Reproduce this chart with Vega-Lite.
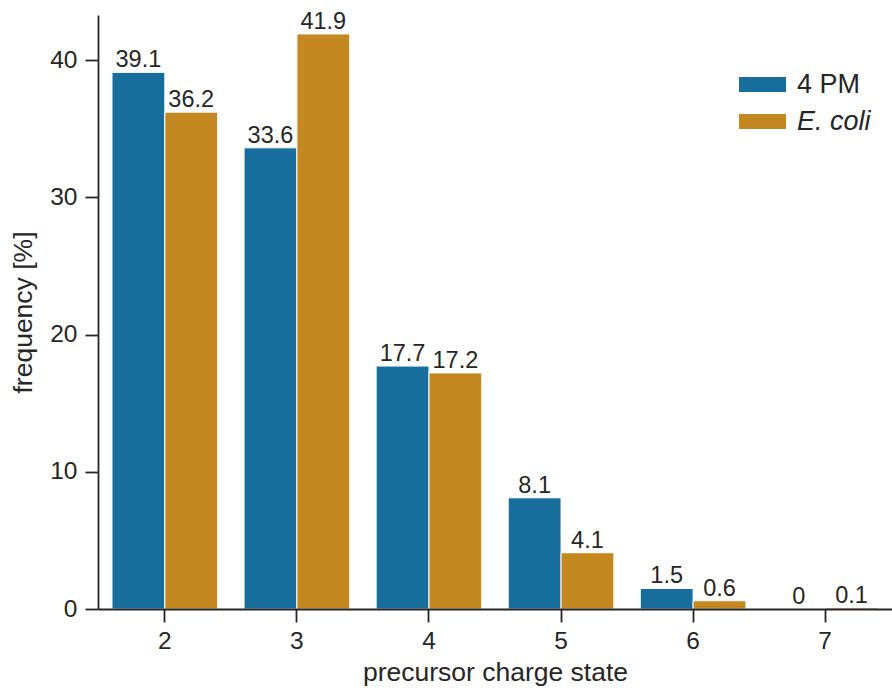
{
  "$schema": "https://vega.github.io/schema/vega-lite/v6.json",
  "width": 794,
  "height": 594,
  "autosize": {"type": "none"},
  "padding": {"left": 98, "top": 15, "right": 0, "bottom": 84},
  "background": "white",
  "config": {
    "view": {"stroke": null},
    "font": "Liberation Sans",
    "axis": {
      "labelFont": "Liberation Sans",
      "titleFont": "Liberation Sans",
      "labelColor": "#262626",
      "titleColor": "#262626",
      "domainColor": "#262626",
      "tickColor": "#262626",
      "domainWidth": 1.8,
      "tickWidth": 1.8,
      "tickSize": 13,
      "grid": false,
      "labelFontSize": 24.5,
      "titleFontSize": 26.5,
      "titleFontWeight": "normal"
    }
  },
  "data": {
    "values": [
      {"charge": "2", "series": "4 PM", "freq": 39.1, "label": "39.1"},
      {"charge": "2", "series": "E. coli", "freq": 36.2, "label": "36.2"},
      {"charge": "3", "series": "4 PM", "freq": 33.6, "label": "33.6"},
      {"charge": "3", "series": "E. coli", "freq": 41.9, "label": "41.9"},
      {"charge": "4", "series": "4 PM", "freq": 17.7, "label": "17.7"},
      {"charge": "4", "series": "E. coli", "freq": 17.2, "label": "17.2"},
      {"charge": "5", "series": "4 PM", "freq": 8.1, "label": "8.1"},
      {"charge": "5", "series": "E. coli", "freq": 4.1, "label": "4.1"},
      {"charge": "6", "series": "4 PM", "freq": 1.5, "label": "1.5"},
      {"charge": "6", "series": "E. coli", "freq": 0.6, "label": "0.6"},
      {"charge": "7", "series": "4 PM", "freq": 0.0, "label": "0"},
      {"charge": "7", "series": "E. coli", "freq": 0.1, "label": "0.1"}
    ]
  },
  "encoding": {
    "x": {
      "field": "charge",
      "type": "nominal",
      "sort": ["2", "3", "4", "5", "6", "7"],
      "scale": {"paddingInner": 0.2, "paddingOuter": 0.106},
      "axis": {
        "title": "precursor charge state",
        "labelAngle": 0,
        "labelPadding": 7,
        "titleY": 71,
        "titleBaseline": "alphabetic",
        "zindex": 2
      }
    },
    "xOffset": {"field": "series", "type": "nominal", "sort": ["4 PM", "E. coli"]},
    "y": {
      "field": "freq",
      "type": "quantitative",
      "scale": {"domain": [0, 43.28], "nice": false, "zero": true},
      "axis": {
        "title": "frequency [%]",
        "values": [0, 10, 20, 30, 40],
        "labelPadding": 8,
        "titleX": -75,
        "titleY": 297,
        "titleAngle": -90,
        "titleAlign": "center",
        "titleBaseline": "middle",
        "zindex": 2
      }
    }
  },
  "layer": [
    {
      "mark": {"type": "bar", "stroke": "white", "strokeWidth": 1},
      "encoding": {
        "color": {
          "field": "series",
          "type": "nominal",
          "sort": ["4 PM", "E. coli"],
          "scale": {"domain": ["4 PM", "E. coli"], "range": ["#176d9c", "#c38820"]},
          "legend": {
            "title": null,
            "orient": "none",
            "legendX": 651,
            "legendY": 56,
            "padding": 0,
            "symbolType": "M-2.35,-0.75H2.35V0.75H-2.35Z",
            "symbolSize": 400,
            "symbolStrokeWidth": 0,
            "symbolOpacity": 1,
            "labelFont": "Liberation Sans",
            "labelFontSize": 27,
            "labelColor": "#262626",
            "labelOffset": 21,
            "rowPadding": 9,
            "labelFontStyle": {"expr": "datum.label == 'E. coli' ? 'italic' : 'normal'"}
          }
        }
      }
    },
    {
      "mark": {"type": "text", "baseline": "alphabetic", "dy": -5, "fontSize": 23.5, "font": "Liberation Sans", "color": "#262626"},
      "encoding": {
        "text": {"field": "label", "type": "nominal"}
      }
    }
  ]
}
